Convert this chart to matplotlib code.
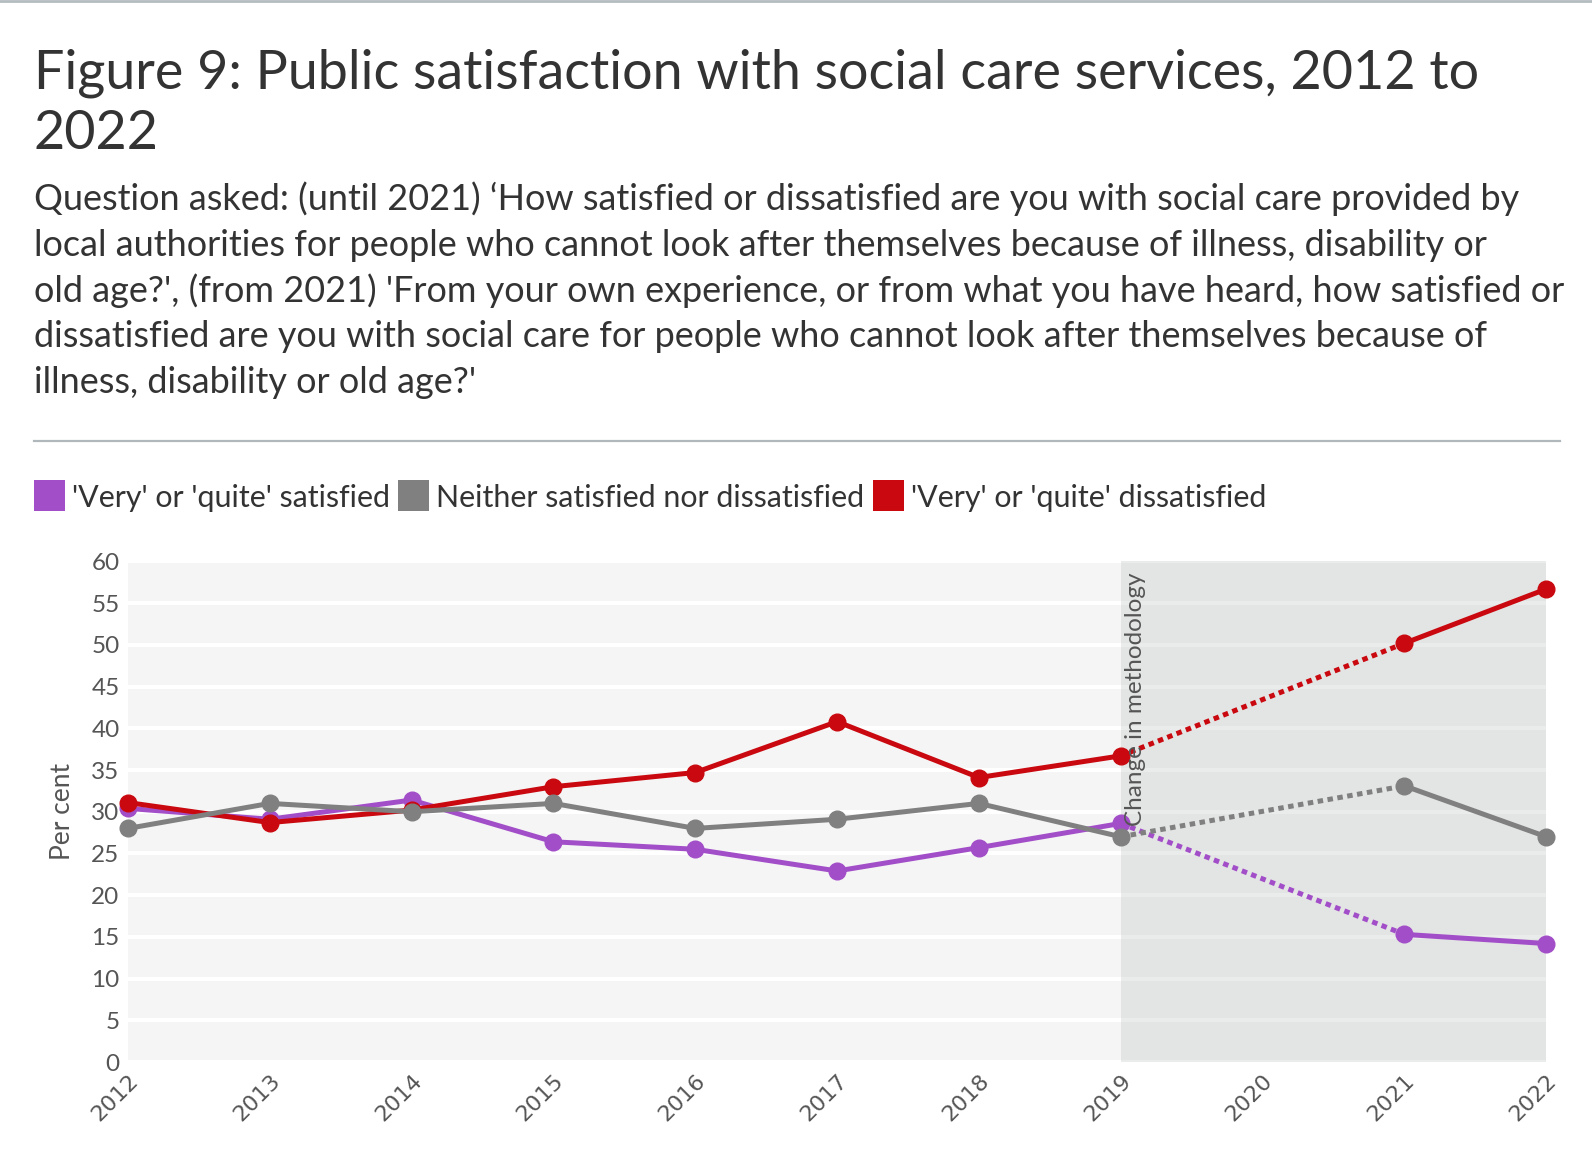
import matplotlib
matplotlib.use("Agg")
import matplotlib.pyplot as plt
from matplotlib.patches import Rectangle
from matplotlib.lines import Line2D

plt.rcParams['font.family'] = ['Lato', 'DejaVu Sans']

# ---------------- data ----------------
years = [2012, 2013, 2014, 2015, 2016, 2017, 2018, 2019, 2021, 2022]
tick_years = [2012, 2013, 2014, 2015, 2016, 2017, 2018, 2019, 2020, 2021, 2022]
satisfied = [30.4, 29.1, 31.4, 26.4, 25.5, 22.9, 25.7, 28.6, 15.3, 14.2]
neither = [28.0, 31.0, 30.0, 31.0, 28.0, 29.1, 31.0, 27.0, 33.1, 27.0]
dissatisfied = [31.1, 28.7, 30.2, 33.0, 34.7, 40.8, 34.1, 36.7, 50.2, 56.7]
series_names = ["'Very' or 'quite' satisfied", "Neither satisfied nor dissatisfied",
                "'Very' or 'quite' dissatisfied"]
colors = ['#a24ec8', '#808080', '#c9090f']
y_ticks = list(range(0, 61, 5))
shade_start, shade_end = 2019, 2022
break_before = 2019   # last point before methodology change
break_after = 2021    # first point after

title_lines = ["Figure 9: Public satisfaction with social care services, 2012 to", "2022"]
subtitle_lines = [
    "Question asked: (until 2021) \u2018How satisfied or dissatisfied are you with social care provided by",
    "local authorities for people who cannot look after themselves because of illness, disability or",
    "old age?', (from 2021) 'From your own experience, or from what you have heard, how satisfied or",
    "dissatisfied are you with social care for people who cannot look after themselves because of",
    "illness, disability or old age?'",
]

W, H = 1592, 1150
S = 1592 / 1568  # reference measured at display scale
fig = plt.figure(figsize=(W / 100, H / 100), dpi=100)
fig.patch.set_facecolor('white')

def fx(px):
    return px * S / W

def fy(py):
    return 1 - py * S / H

# top border
fig.add_artist(Line2D([0, 1], [1 - 1 / H, 1 - 1 / H], color='#b4bcc0', lw=2))

# title
for i, line in enumerate(title_lines):
    fig.text(fx(33), fy(87 + 60 * i), line, fontsize=38.8, color='#333333',
             va='baseline', ha='left')

# subtitle
for i, line in enumerate(subtitle_lines):
    fig.text(fx(33), fy(207 + 45 * i), line, fontsize=25.9, color='#333333',
             va='baseline', ha='left')

# separator
fig.add_artist(Line2D([fx(33), fx(1536)], [fy(434), fy(434)], color='#b0b8bc', lw=1.6))

# axes
left, right, top, bottom = 126, 1523, 553, 1046
ax = fig.add_axes([fx(left), fy(bottom), fx(right) - fx(left), fy(top) - fy(bottom)])
ax.set_facecolor('#f5f5f5')
ax.set_xlim(tick_years[0], tick_years[-1])
ax.set_ylim(y_ticks[0], y_ticks[-1])
for s in ax.spines.values():
    s.set_visible(False)
ax.set_yticks(y_ticks)
ax.set_xticks(tick_years)
ax.set_xticklabels([str(y) for y in tick_years], rotation=45, ha='right',
                   rotation_mode='anchor', fontsize=16, color='#555555',
                   family='DejaVu Sans')
ax.tick_params(axis='x', length=0, pad=6)
ax.tick_params(axis='y', length=0, pad=6, labelsize=17.5, labelcolor='#555555')
ax.yaxis.grid(True, color='white', lw=3)
ax.set_axisbelow(True)
ax.set_ylabel('Per cent', fontsize=19, color='#555555', labelpad=12)

ax.axvspan(shade_start, shade_end, color='#bcbebe', alpha=0.3, lw=0, zorder=1.5)

ib = years.index(break_before)
ia = years.index(break_after)
for vals, c, z in zip([satisfied, dissatisfied, neither],
                      [colors[0], colors[2], colors[1]], [3, 4, 5]):
    ax.plot(years[:ib + 1], vals[:ib + 1], color=c, lw=3.6, marker='o', ms=12,
            zorder=z, clip_on=False, solid_capstyle='round')
    ax.plot(years[ib:ia + 1], vals[ib:ia + 1], color=c, lw=3.6,
            linestyle=(0, (1.1, 0.9)), zorder=z, clip_on=False)
    ax.plot(years[ia:], vals[ia:], color=c, lw=3.6, marker='o', ms=12,
            zorder=z, clip_on=False, solid_capstyle='round')

ax.text(shade_start + 0.03, 58.7, 'Change in methodology', rotation=90,
        ha='left', va='top', fontsize=17.5, color='#555555', zorder=6)

# legend
fig.canvas.draw()
renderer = fig.canvas.get_renderer()
x = 33 * S
sq = 31 * S
ycen = 488 * S
for name, c in zip(series_names, colors):
    fig.add_artist(Rectangle((x / W, 1 - (ycen + sq / 2) / H), sq / W, sq / H,
                             facecolor=c, edgecolor='none'))
    t = fig.text((x + sq + 7) / W, 1 - ycen / H, name, fontsize=21.85, color='#333333',
                 va='center_baseline', ha='left')
    bb = t.get_window_extent(renderer)
    x = bb.x1 + 8

fig.savefig('out.png', dpi=100, facecolor='white')
